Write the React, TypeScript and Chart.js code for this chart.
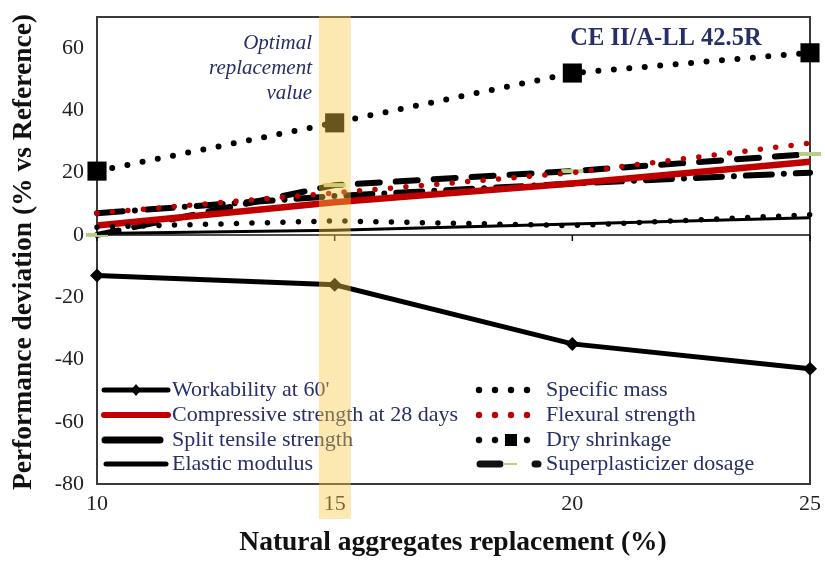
import React, { useEffect, useRef } from 'react';
import { Chart, registerables } from 'chart.js';

Chart.register(...registerables);

// ---- data ----
const replacement = [10, 15, 20, 25];
const workability = [-13, -16, -35, -43];
const compressive = [3, 10.5, 16.5, 23.5];
const splitTensile = [7, 12.5, 16.5, 20];
const elasticModulus = [0.5, 1.5, 3.5, 5.5];
const specificMass = [2.5, 4.5, 3, 6.5];
const flexural = [7, 13.5, 20, 29.5];
const dryShrinkage = [20.5, 36, 52, 58.5];
const superplasticizer = [0, 16, 20.5, 26];

const xTicks = [10, 15, 20, 25];
const yTicks = [-80, -60, -40, -20, 0, 20, 40, 60];
const legendLeft = ["Workability at 60'", 'Compressive strength at 28 days', 'Split tensile strength', 'Elastic modulus'];
const legendRight = ['Specific mass', 'Flexural strength', 'Dry shrinkage', 'Superplasticizer dosage'];
const chartTitle = 'CE II/A-LL 42.5R';
const noteLines = ['Optimal', 'replacement', 'value'];
const optimalBand = [14.67, 15.34];
const xTitle = 'Natural aggregates replacement (%)';
const yTitle = 'Performance deviation (% vs Reference)';

const SERIF = '"Liberation Serif", "Times New Roman", serif';
const NAVY = '#262f66';
const RED = '#c00000';
const GREEN = '#b5cf8a';

const pts = (arr: number[]) => replacement.map((x, i) => ({ x, y: arr[i] }));

const decorPlugin = {
  id: 'decor',
  beforeDatasetsDraw(chart: any) {
    const { ctx, chartArea, scales } = chart;
    const xs = scales.x;
    const ys = scales.y;
    ctx.save();
    // plot box
    ctx.strokeStyle = '#3a3a3a';
    ctx.lineWidth = 2;
    ctx.strokeRect(chartArea.left, chartArea.top, chartArea.right - chartArea.left, chartArea.bottom - chartArea.top);
    // zero line with ticks
    const y0 = ys.getPixelForValue(0);
    ctx.strokeStyle = '#111';
    ctx.lineWidth = 1.5;
    ctx.beginPath();
    ctx.moveTo(chartArea.left, y0);
    ctx.lineTo(chartArea.right, y0);
    xTicks.forEach((v) => {
      const px = xs.getPixelForValue(v);
      ctx.moveTo(px, y0);
      ctx.lineTo(px, y0 + 6);
    });
    ctx.stroke();
    ctx.restore();
  },
  afterDatasetsDraw(chart: any) {
    const { ctx, chartArea, scales } = chart;
    const xs = scales.x;
    ctx.save();

    // title
    ctx.fillStyle = NAVY;
    ctx.font = `bold 24.5px ${SERIF}`;
    ctx.textAlign = 'center';
    ctx.textBaseline = 'middle';
    ctx.fillText(chartTitle, 666, 39);

    // note
    ctx.font = `italic 21px ${SERIF}`;
    ctx.textAlign = 'right';
    noteLines.forEach((t, i) => ctx.fillText(t, 312, 43 + i * 25));

    // legend
    ctx.font = `22px ${SERIF}`;
    ctx.textAlign = 'left';
    const rows = [390, 415, 440, 464];
    legendLeft.forEach((t, i) => ctx.fillText(t, 172, rows[i]));
    legendRight.forEach((t, i) => ctx.fillText(t, 546, rows[i]));

    ctx.lineCap = 'round';
    // workability
    ctx.strokeStyle = '#000';
    ctx.lineWidth = 5;
    ctx.beginPath(); ctx.moveTo(104, rows[0]); ctx.lineTo(168, rows[0]); ctx.stroke();
    ctx.fillStyle = '#000';
    ctx.beginPath();
    ctx.moveTo(136, rows[0] - 6); ctx.lineTo(141, rows[0]); ctx.lineTo(136, rows[0] + 6); ctx.lineTo(131, rows[0]);
    ctx.closePath(); ctx.fill();
    // compressive
    ctx.strokeStyle = RED; ctx.lineWidth = 6;
    ctx.beginPath(); ctx.moveTo(104, rows[1]); ctx.lineTo(168, rows[1]); ctx.stroke();
    // split tensile
    ctx.strokeStyle = '#000'; ctx.lineWidth = 7;
    ctx.beginPath(); ctx.moveTo(105, rows[2]); ctx.lineTo(160, rows[2]); ctx.stroke();
    // elastic
    ctx.lineWidth = 5;
    ctx.beginPath(); ctx.moveTo(106, rows[3]); ctx.lineTo(166, rows[3]); ctx.stroke();

    const dots = (y: number, color: string, xsArr: number[]) => {
      ctx.fillStyle = color;
      xsArr.forEach((x) => { ctx.beginPath(); ctx.arc(x, y, 3.2, 0, Math.PI * 2); ctx.fill(); });
    };
    dots(rows[0], '#000', [479, 495, 511, 527]);
    dots(rows[1], RED, [479, 495, 511, 527]);
    dots(rows[2], '#000', [479, 495, 527]);
    ctx.fillStyle = '#000';
    ctx.fillRect(505, rows[2] - 6, 12, 12);
    // superplasticizer
    ctx.strokeStyle = '#111'; ctx.lineWidth = 7;
    ctx.beginPath(); ctx.moveTo(480, rows[3]); ctx.lineTo(500, rows[3]); ctx.stroke();
    ctx.beginPath(); ctx.moveTo(535, rows[3]); ctx.lineTo(538, rows[3]); ctx.stroke();
    ctx.strokeStyle = GREEN; ctx.lineWidth = 2; ctx.lineCap = 'butt';
    ctx.beginPath(); ctx.moveTo(503, rows[3]); ctx.lineTo(517, rows[3]); ctx.stroke();

    // axis titles
    ctx.fillStyle = '#111';
    ctx.font = `bold 27.5px ${SERIF}`;
    ctx.textAlign = 'center';
    ctx.textBaseline = 'middle';
    ctx.fillText(xTitle, 453, 543);
    ctx.save();
    ctx.translate(24, 252);
    ctx.rotate(-Math.PI / 2);
    ctx.fillText(yTitle, 0, 0);
    ctx.restore();

    // optimal band
    const bx0 = xs.getPixelForValue(optimalBand[0]);
    const bx1 = xs.getPixelForValue(optimalBand[1]);
    ctx.fillStyle = 'rgba(247, 200, 70, 0.42)';
    ctx.fillRect(bx0, chartArea.top - 1, bx1 - bx0, 519 - chartArea.top + 1);
    ctx.restore();
  },
};

export default function App() {
  const ref = useRef<HTMLCanvasElement>(null);
  useEffect(() => {
    if (!ref.current) return;
    const common = { clip: false as any, tension: 0, fill: false };
    const chart = new Chart(ref.current, {
      type: 'line',
      data: {
        datasets: [
          {
            ...common,
            label: 'Elastic modulus',
            data: pts(elasticModulus),
            borderColor: '#000',
            borderWidth: 3,
            pointRadius: 0,
          },
          {
            ...common,
            label: 'Specific mass',
            data: pts(specificMass),
            borderColor: '#000',
            borderWidth: 5.5,
            borderDash: [0, 15.5],
            borderCapStyle: 'round',
            pointRadius: 0,
          },
          {
            ...common,
            label: 'Compressive strength at 28 days',
            data: pts(compressive),
            borderColor: RED,
            borderWidth: 6.5,
            pointRadius: 0,
          },
          {
            ...common,
            label: 'Flexural strength',
            data: pts(flexural),
            borderColor: RED,
            borderWidth: 5.5,
            borderDash: [0, 15.5],
            borderCapStyle: 'round',
            pointRadius: 0,
          },
          {
            ...common,
            label: 'Split tensile strength',
            data: pts(splitTensile),
            borderColor: '#000',
            borderWidth: 6,
            borderDash: [26, 12, 0, 12],
            borderCapStyle: 'round',
            pointRadius: 0,
          },
          {
            ...common,
            label: 'Superplasticizer dosage',
            data: pts(superplasticizer),
            borderColor: '#000',
            borderWidth: 6,
            borderDash: [22, 16],
            borderCapStyle: 'round',
            pointStyle: 'line',
            pointRadius: 11,
            pointBorderWidth: 4,
            pointBorderColor: GREEN,
            pointBackgroundColor: GREEN,
          },
          {
            ...common,
            label: 'Dry shrinkage',
            data: pts(dryShrinkage),
            borderColor: '#000',
            borderWidth: 6,
            borderDash: [0, 15.5],
            borderCapStyle: 'round',
            pointStyle: 'rect',
            pointRadius: 13.5,
            pointBorderWidth: 0,
            pointBackgroundColor: '#000',
          },
          {
            ...common,
            label: "Workability at 60'",
            data: pts(workability),
            borderColor: '#000',
            borderWidth: 5,
            pointStyle: 'rectRot',
            pointRadius: 7,
            pointBorderWidth: 0,
            pointBackgroundColor: '#000',
          },
        ],
      },
      options: {
        responsive: false,
        animation: false,
        events: [],
        layout: { padding: { top: 17, right: 12, left: 0, bottom: 0 } },
        plugins: { legend: { display: false }, tooltip: { enabled: false }, title: { display: false } },
        scales: {
          x: {
            type: 'linear',
            min: 10,
            max: 25,
            afterBuildTicks: (s: any) => { s.ticks = xTicks.map((v) => ({ value: v })); },
            afterFit: (s: any) => { s.height = 77; s.paddingLeft = 0; s.paddingRight = 0; },
            grid: { display: false, drawTicks: false },
            border: { display: false },
            ticks: { padding: 7, color: '#222', font: { family: SERIF, size: 22 }, maxRotation: 0 },
          },
          y: {
            type: 'linear',
            min: -80,
            max: 70,
            afterBuildTicks: (s: any) => { s.ticks = yTicks.map((v) => ({ value: v })); },
            afterFit: (s: any) => { s.width = 97; s.paddingTop = 0; s.paddingBottom = 0; },
            grid: { display: false, drawTicks: false },
            border: { display: false },
            ticks: { padding: 13, color: '#222', font: { family: SERIF, size: 22 } },
          },
        },
      },
      plugins: [decorPlugin],
    });
    return () => chart.destroy();
  }, []);
  return (
    <div style={{ position: 'absolute', left: 0, top: 0, width: 825, height: 561, background: '#fff' }}>
      <canvas ref={ref} width={825} height={561} style={{ display: 'block', width: 825, height: 561 }} />
    </div>
  );
}
